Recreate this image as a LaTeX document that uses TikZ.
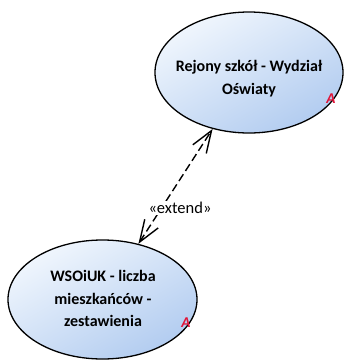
\documentclass[tikz,border=0pt]{standalone}
\usepackage{fontspec}
\setmainfont{Carlito}
\usetikzlibrary{shapes.geometric,arrows.meta}
\definecolor{ucfillA}{RGB}{240,246,253}
\definecolor{ucfillB}{RGB}{178,204,240}
\definecolor{ucred}{RGB}{225,20,55}
\tikzset{
  usecase/.style={ellipse, draw=black, line width=1.3bp, inner sep=0pt,
    shading=axis, top color=ucfillA, bottom color=ucfillB, shading angle=30},
  uctext/.style={align=center, font=\fontsize{16bp}{22.5bp}\selectfont\bfseries, inner sep=0pt},
  ucmark/.style={text=ucred, font=\fontsize{15bp}{15bp}\selectfont\bfseries\itshape, inner sep=0.5bp},
  extendline/.style={line width=1.4bp, dash pattern=on 8bp off 4bp,
    {Straight Barb[length=22bp,width=16bp,line width=1.4bp]}-{Straight Barb[length=22bp,width=16bp,line width=1.4bp]}},
  extendlabel/.style={fill=white, inner sep=1bp, font=\fontsize{16.5bp}{20bp}\selectfont}
}
\begin{document}
\begin{tikzpicture}[x=1bp,y=-1bp]
\useasboundingbox (0,0) rectangle (344,361);
\node[usecase, minimum width=188bp, minimum height=121bp] (t) at (249,72.5) {};
\node[usecase, minimum width=189bp, minimum height=119bp] (b) at (102.5,299.5) {};
\node[uctext] (tt) at (249,78.5) {Rejony szkół - Wydział\\Oświaty};
\node[uctext] (bt) at (103,298.5) {WSOiUK - liczba\\mieszkańców -\\zestawienia};
\node[ucmark] (ta) at (331,99) {A};
\node[ucmark] (ba) at (186,323) {A};
\draw[extendline] (b) -- (t);
\node[extendlabel] (el) at (180,208) {«extend»};
\end{tikzpicture}
\end{document}
